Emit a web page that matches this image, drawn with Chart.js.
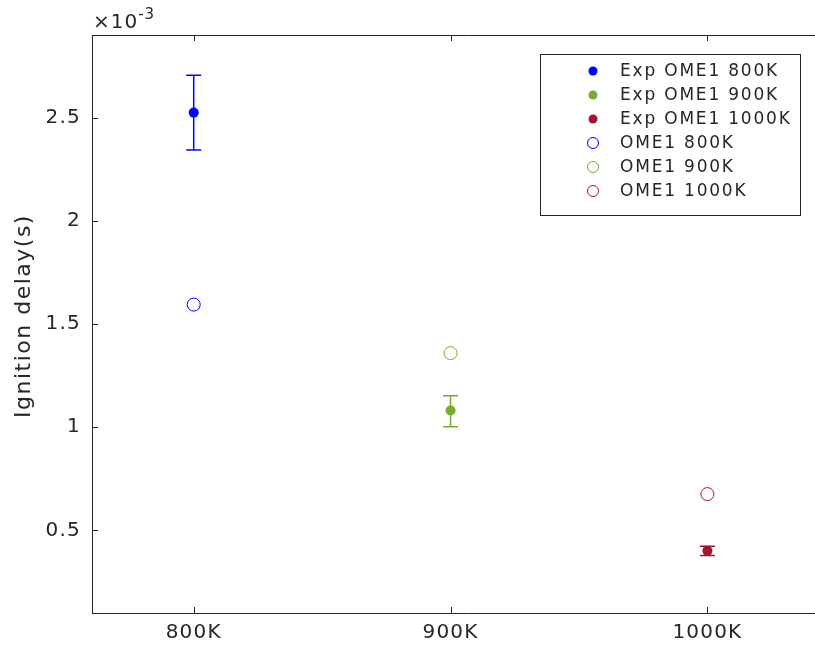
<!DOCTYPE html>
<html>
<head>
<meta charset="utf-8">
<title>Ignition delay</title>
<script src="https://cdn.jsdelivr.net/npm/chart.js"></script>
<style>
  html, body { margin: 0; padding: 0; background: #fff; overflow: hidden; }
  #delay-chart { display: block; }
</style>
</head>
<body>
<canvas id="delay-chart" width="850" height="652"></canvas>
<script>
// Temperatures and ignition delays (values in units of 1e-3 s)
const temps = ['800K', '900K', '1000K'];
const tempPos = [1, 2, 3];
const expDelay = [2.524, 1.081, 0.401];
const expLow = [2.343, 1.002, 0.379];
const expHigh = [2.705, 1.152, 0.423];
const simDelay = [1.594, 1.359, 0.676];
const yTicks = [0.5, 1, 1.5, 2, 2.5];
const yExponent = '-3';
const yTitle = 'Ignition delay(s)';

const colors = ['#0000ff', '#77ac30', '#a2142f'];
const ink = '#262626';
const family = 'DejaVu Sans, sans-serif';

const datasets = [];
temps.forEach((t, i) => {
    datasets.push({
        label: `Exp OME1 ${t}`,
        data: [{ x: tempPos[i], y: expDelay[i] }],
        pointRadius: 5,
        backgroundColor: colors[i],
        borderColor: colors[i],
        borderWidth: 0,
        hollow: false
    });
});
temps.forEach((t, i) => {
    datasets.push({
        label: `OME1 ${t}`,
        data: [{ x: tempPos[i], y: simDelay[i] }],
        pointRadius: 6.5,
        backgroundColor: 'rgba(0,0,0,0)',
        borderColor: colors[i],
        borderWidth: 1,
        hollow: true
    });
});

// vertical error bars with caps, drawn under the markers
const errorBars = {
    id: 'errorBars',
    beforeDatasetsDraw(chart) {
        const { ctx, scales: { x, y } } = chart;
        ctx.save();
        ctx.lineWidth = 1.5;
        tempPos.forEach((p, i) => {
            const px = x.getPixelForValue(p);
            const top = y.getPixelForValue(expHigh[i]);
            const bot = y.getPixelForValue(expLow[i]);
            ctx.strokeStyle = colors[i];
            ctx.beginPath();
            ctx.moveTo(px, top); ctx.lineTo(px, bot);
            ctx.moveTo(px - 7.5, top); ctx.lineTo(px + 7.5, top);
            ctx.moveTo(px - 7.5, bot); ctx.lineTo(px + 7.5, bot);
            ctx.stroke();
        });
        ctx.restore();
    }
};

// box frame, inward ticks, axis title, exponent and boxed legend
const frame = {
    id: 'frame',
    beforeDraw(chart) {
        chart.ctx.letterSpacing = '1.2px';
    },
    afterDraw(chart) {
        const { ctx, chartArea: a, scales: { x, y } } = chart;
        ctx.save();
        ctx.strokeStyle = ink;
        ctx.lineWidth = 1;
        ctx.beginPath();
        ctx.moveTo(a.left, a.top + 0.5); ctx.lineTo(a.right, a.top + 0.5);
        tempPos.forEach(v => {
            const px = Math.round(x.getPixelForValue(v)) + 0.5;
            ctx.moveTo(px, a.bottom); ctx.lineTo(px, a.bottom - 6);
            ctx.moveTo(px, a.top); ctx.lineTo(px, a.top + 6);
        });
        yTicks.forEach(v => {
            const py = Math.round(y.getPixelForValue(v)) + 0.5;
            ctx.moveTo(a.left, py); ctx.lineTo(a.left + 6, py);
        });
        ctx.stroke();

        ctx.fillStyle = ink;

        // y axis title, rotated
        ctx.save();
        ctx.translate(24, (a.top + a.bottom) / 2 - 8);
        ctx.rotate(-Math.PI / 2);
        ctx.font = `22px ${family}`;
        ctx.letterSpacing = '1.5px';
        ctx.textAlign = 'center';
        ctx.textBaseline = 'middle';
        ctx.fillText(yTitle, 0, 0);
        ctx.restore();

        // x10^-3 multiplier above the y axis
        ctx.textBaseline = 'alphabetic';
        ctx.textAlign = 'left';
        ctx.letterSpacing = '1px';
        ctx.font = `20px ${family}`;
        ctx.fillText('×10', a.left + 1, 28);
        const w = ctx.measureText('×10').width;
        ctx.font = `15px ${family}`;
        ctx.fillText(yExponent, a.left + 1 + w, 19);

        // legend
        const lx = 540.5, ly = 54.5, lw = 260, lh = 161;
        ctx.fillStyle = '#fff';
        ctx.fillRect(lx, ly, lw, lh);
        ctx.strokeRect(lx, ly, lw, lh);
        ctx.font = `17px ${family}`;
        ctx.letterSpacing = '1.8px';
        ctx.textBaseline = 'middle';
        chart.data.datasets.forEach((ds, i) => {
            const cy = ly + 16.5 + i * 24;
            ctx.beginPath();
            ctx.arc(593, cy, ds.hollow ? 5.5 : 4.5, 0, Math.PI * 2);
            if (ds.hollow) {
                ctx.strokeStyle = ds.borderColor;
                ctx.stroke();
            } else {
                ctx.fillStyle = ds.backgroundColor;
                ctx.fill();
            }
            ctx.fillStyle = ink;
            ctx.fillText(ds.label, 620, cy + 1);
        });
        ctx.restore();
    }
};

new Chart(document.getElementById('delay-chart'), {
    type: 'scatter',
    data: { datasets },
    options: {
        responsive: false,
        animation: false,
        layout: { padding: { top: 35, left: 0, right: 0, bottom: 0 } },
        plugins: { legend: { display: false }, tooltip: { enabled: false } },
        scales: {
            x: {
                type: 'linear',
                min: 0.604,
                max: 3.526,
                afterBuildTicks: s => { s.ticks = tempPos.map(v => ({ value: v })); },
                afterFit: s => { s.height = 39; },
                ticks: {
                    callback: (v, i) => temps[i],
                    color: ink,
                    font: { family, size: 20 },
                    padding: 8,
                    maxRotation: 0,
                    autoSkip: false
                },
                grid: { display: false, drawTicks: false },
                border: { color: ink, width: 1 }
            },
            y: {
                min: 0.1,
                max: 2.9,
                afterBuildTicks: s => { s.ticks = yTicks.map(v => ({ value: v })); },
                afterFit: s => { s.width = 92; },
                ticks: {
                    callback: v => String(v),
                    color: ink,
                    font: { family, size: 20 },
                    padding: 11
                },
                grid: { display: false, drawTicks: false },
                border: { color: ink, width: 1 }
            }
        }
    },
    plugins: [errorBars, frame]
});
</script>
</body>
</html>
